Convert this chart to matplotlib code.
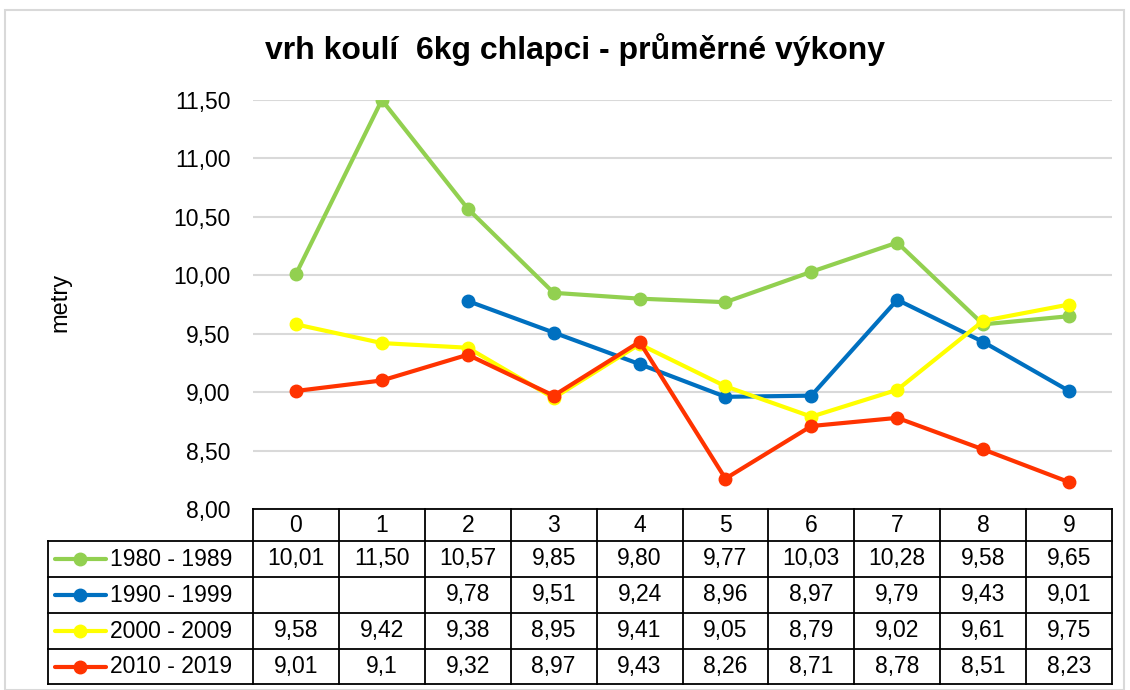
import matplotlib.pyplot as plt
from matplotlib.patches import Rectangle
import numpy as np

plt.rcParams['font.family'] = ['Liberation Sans', 'DejaVu Sans']

years = [0, 1, 2, 3, 4, 5, 6, 7, 8, 9]
labels = ['1980 - 1989', '1990 - 1999', '2000 - 2009', '2010 - 2019']
s1980 = [10.01, 11.50, 10.57, 9.85, 9.80, 9.77, 10.03, 10.28, 9.58, 9.65]
s1990 = [np.nan, np.nan, 9.78, 9.51, 9.24, 8.96, 8.97, 9.79, 9.43, 9.01]
s2000 = [9.58, 9.42, 9.38, 8.95, 9.41, 9.05, 8.79, 9.02, 9.61, 9.75]
s2010 = [9.01, 9.1, 9.32, 8.97, 9.43, 8.26, 8.71, 8.78, 8.51, 8.23]
colors = ['#92D050', '#0070C0', '#FFFF00', '#FF3300']
fmts = ['{:.2f}', '{:.2f}', '{:.2f}', '{:g}']
series = [s1980, s1990, s2000, s2010]

fs = 16.5
W, H = 1130, 690
fig = plt.figure(figsize=(W / 100, H / 100), dpi=100)

# outer chart frame
fig.patches.append(Rectangle((5 / W, 0), 1119 / W, 1 - 10 / H, transform=fig.transFigure,
                             fill=False, edgecolor='#D9D9D9', linewidth=1.5))

x0, x1 = 253, 1112
ax = fig.add_axes([x0 / W, 1 - 509 / H, (x1 - x0) / W, 409 / H])
for s, c in zip(series, colors):
    ax.plot(years, s, color=c, linewidth=3, marker='o', markersize=9, zorder=3)
ax.set_xlim(-0.5, 9.5)
ax.set_ylim(8, 11.5)
yt = np.arange(8, 11.51, 0.5)
ax.set_yticks(yt)
ax.set_yticklabels([f'{v:.2f}'.replace('.', ',') for v in yt], fontsize=fs)
ax.set_xticks([])
ax.tick_params(axis='y', length=0, pad=16)
ax.grid(axis='y', color='#D9D9D9', linewidth=1.5)
ax.set_axisbelow(True)
for sp in ax.spines.values():
    sp.set_visible(False)
fig.text(60 / W, 1 - 302 / H, 'metry', rotation=90, fontsize=17, va='center', ha='center')
fig.text(575 / W, 1 - 50 / H, 'vrh koulí  6kg chlapci - průměrné výkony',
         fontsize=23, fontweight='bold', ha='center', va='center')

# data table
ux = (x1 - x0) / 10
left = -0.5 - (x0 - 48) / ux
tb = fig.add_axes([48 / W, 1 - 684 / H, (x1 - 48) / W, 175 / H])
tb.set_xlim(left, 9.5)
tb.set_ylim(684, 509)
tb.axis('off')
rows = [541, 577, 613, 649, 684]
lw = 1.3
# header
tb.plot([-0.5, 9.5], [509, 509], color='black', lw=lw, clip_on=False)
for i in range(11):
    tb.plot([i - 0.5, i - 0.5], [509, 684], color='black', lw=lw, clip_on=False)
tb.plot([left, left], [541, 684], color='black', lw=lw, clip_on=False)
for y in rows:
    tb.plot([left, 9.5], [y, y], color='black', lw=lw, clip_on=False)
for i, yr in enumerate(years):
    tb.text(i, 526, str(yr), ha='center', va='center', fontsize=fs)
for r, (s, c, lab, f) in enumerate(zip(series, colors, labels, fmts)):
    yc = (rows[r] + rows[r + 1]) / 2
    lx = left + 7 / ux
    tb.plot([lx, lx + 51 / ux], [yc, yc], color=c, lw=3, clip_on=False, solid_capstyle='round')
    tb.plot([lx + 25 / ux], [yc], 'o', color=c, markersize=9, clip_on=False)
    tb.text(left + 62 / ux, yc, lab, ha='left', va='center', fontsize=fs)
    for i, v in enumerate(s):
        if not np.isnan(v):
            tb.text(i, yc, f.format(v).replace('.', ','), ha='center', va='center', fontsize=fs)

fig.savefig('out.png', dpi=100)
